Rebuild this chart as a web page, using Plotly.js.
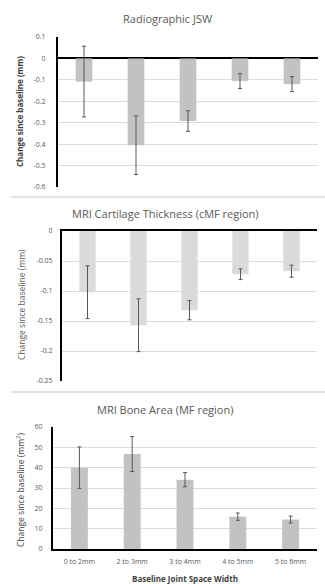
<!DOCTYPE html>
<html><head><meta charset="utf-8">
<script src="https://cdn.plot.ly/plotly-3.0.1.min.js"></script>
<style>html,body{margin:0;padding:0;background:#fff}#chart{width:325px;height:584px}</style>
</head><body><div id="chart"></div>
<script>
const categories = ["0 to 2mm", "2 to 3mm", "3 to 4mm", "4 to 5mm", "5 to 6mm"];
const jswMean = [-0.108, -0.405, -0.292, -0.105, -0.12];
const jswErr = [0.165, 0.137, 0.048, 0.035, 0.035];
const cartMean = [-0.102, -0.157, -0.132, -0.072, -0.067];
const cartErr = [0.044, 0.044, 0.016, 0.009, 0.01];
const boneMean = [40, 46.7, 34.1, 15.9, 14.5];
const boneErr = [10.2, 8.6, 3.5, 1.8, 1.7];
const jswTicks = [0.1, 0, -0.1, -0.2, -0.3, -0.4, -0.5, -0.6];
const jswTickText = ["0.1", "0", "-0.1", "-0.2", "-0.3", "-0.4", "-0.5", "-0.6"];
const cartTicks = [0, -0.05, -0.1, -0.15, -0.2, -0.25];
const cartTickText = ["0", "-0.05", "-0.1", "-0.15", "-0.2", "-0.25"];
const boneTicks = [0, 10, 20, 30, 40, 50, 60];

const errStyle = {type: 'data', visible: true, color: '#595959', thickness: 1, width: 2};
function bar(y, err, color, xa, ya) {
  return {type: 'bar', x: categories, y: y, xaxis: xa, yaxis: ya,
    marker: {color: color}, width: 0.32,
    error_y: Object.assign({array: err}, errStyle), hoverinfo: 'none'};
}
const data = [
  bar(jswMean, jswErr, '#c2c2c2', 'x', 'y'),
  bar(cartMean, cartErr, '#dadada', 'x2', 'y2'),
  bar(boneMean, boneErr, '#c2c2c2', 'x3', 'y3')
];
const H = 584, W = 325;
const py = v => 1 - v / H;
const px = v => v / W;
const FF = 'Open Sans, Liberation Sans, sans-serif';
const tickFont = {family: FF, size: 7, color: '#595959'};
const yBase = {showgrid: true, gridcolor: '#dcdcdc', gridwidth: 1, showline: true, linecolor: '#000', linewidth: 2,
  ticks: '', tickfont: tickFont, zeroline: false, fixedrange: true};
const xBase = {showgrid: false, zeroline: false, fixedrange: true, tickfont: tickFont, ticks: ''};
function ann(text, x, y, size, color, angle) {
  return {text: text, xref: 'paper', yref: 'paper', x: px(x), y: py(y), xanchor: 'center', yanchor: 'middle',
    showarrow: false, textangle: angle || 0, font: {family: FF, size: size, color: color}};
}
const layout = {
  width: W, height: H, margin: {l: 0, r: 0, t: 0, b: 0}, showlegend: false,
  paper_bgcolor: '#fff', plot_bgcolor: '#fff', bargap: 0.68,
  xaxis: Object.assign({}, xBase, {domain: [px(58), px(318)], anchor: 'y', showticklabels: false, showline: false}),
  yaxis: Object.assign({}, yBase, {domain: [py(187), py(37)], range: [-0.6, 0.1], tickvals: jswTicks, ticktext: jswTickText, anchor: 'x',
    zeroline: true, zerolinecolor: '#000', zerolinewidth: 2, ticklabelstandoff: 9}),
  xaxis2: Object.assign({}, xBase, {domain: [px(62), px(317)], anchor: 'y2', showticklabels: false, showline: true, side: 'top', linecolor: '#000', linewidth: 2}),
  yaxis2: Object.assign({}, yBase, {domain: [py(381), py(231)], range: [-0.25, 0], tickvals: cartTicks, ticktext: cartTickText, anchor: 'x2', ticklabelstandoff: 6}),
  xaxis3: Object.assign({}, xBase, {domain: [px(53), px(317)], anchor: 'y3', showline: true, linecolor: '#000', linewidth: 2, ticklabelstandoff: 5}),
  yaxis3: Object.assign({}, yBase, {domain: [py(549), py(427)], range: [0, 60], tickvals: boneTicks, anchor: 'x3', ticklabelstandoff: 7}),
  shapes: [
    {type: 'line', xref: 'paper', yref: 'paper', x0: px(11), x1: 1, y0: py(197), y1: py(197), line: {color: '#e3e3e3', width: 2}},
    {type: 'line', xref: 'paper', yref: 'paper', x0: px(11), x1: 1, y0: py(392), y1: py(392), line: {color: '#e3e3e3', width: 2}}
  ],
  annotations: [
    ann('Radiographic JSW', 167, 18, 11, '#595959'),
    ann('MRI Cartilage Thickness (cMF region)', 165, 213, 11, '#595959'),
    ann('MRI Bone Area (MF region)', 165, 409, 11, '#595959'),
    ann('<b>Change since baseline (mm)</b>', 19, 112, 8, '#404040', -90),
    ann('Change since baseline (mm)', 21, 305, 8.5, '#595959', -90),
    ann('Change since baseline (mm<sup>2</sup>)', 20, 490, 8.5, '#404040', -90),
    ann('<b>Baseline Joint Space Width</b>', 185, 579, 8, '#404040')
  ]
};
Plotly.newPlot('chart', data, layout, {displayModeBar: false, staticPlot: true});
</script></body></html>
